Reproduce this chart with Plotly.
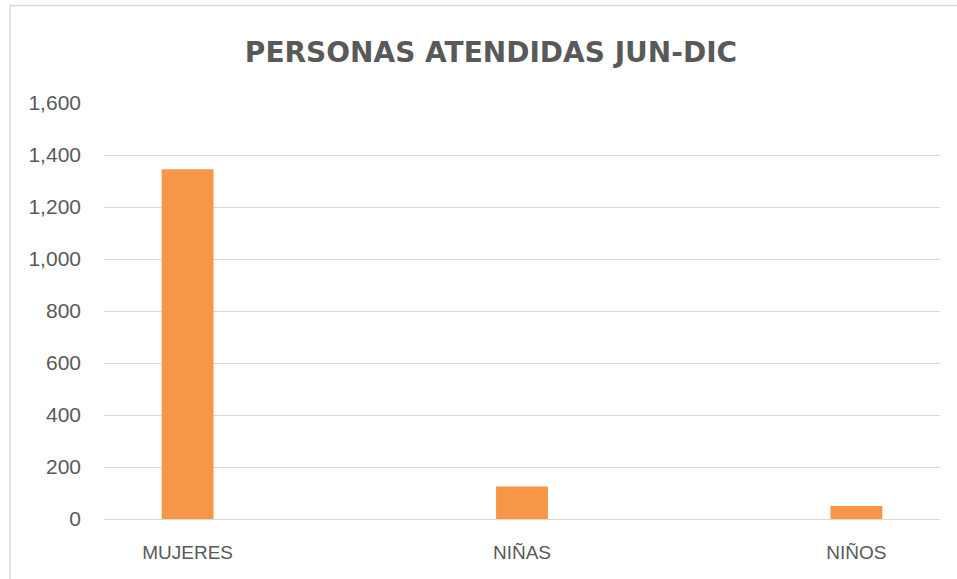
import plotly.graph_objects as go

categories = ["MUJERES", "NIÑAS", "NIÑOS"]
values = [1345, 125, 50]
y_ticks = [0, 200, 400, 600, 800, 1000, 1200, 1400, 1600]
y_tick_labels = ["0", "200", "400", "600", "800", "1,000", "1,200", "1,400", "1,600"]
title_text = "PERSONAS ATENDIDAS JUN-DIC"

W, H = 957, 579
L, R, T, B = 104, 17, 103, 60
pw, ph = W - L - R, H - T - B

def px_x(p):
    return (p - L) / pw

def px_y(p):
    return (H - B - p) / ph

fig = go.Figure(go.Bar(
    x=categories, y=values,
    marker=dict(color="#F79646", line=dict(width=0)),
    hoverinfo="x+y",
))

fig.update_layout(
    width=W, height=H,
    margin=dict(l=L, r=R, t=T, b=B, autoexpand=False),
    paper_bgcolor="white", plot_bgcolor="white",
    bargap=0.845,
    showlegend=False,
    title=dict(text=title_text, x=491 / W, y=1 - 52 / H, xref="container", yref="container",
               xanchor="center", yanchor="middle",
               font=dict(family="DejaVu Sans", size=28, color="#595959", weight="bold")),
    font=dict(family="Liberation Sans", color="#595959"),
)
fig.update_xaxes(
    type="category", range=[-0.25, 2.25], showgrid=False, showline=False, zeroline=False,
    ticks="", tickfont=dict(size=19, color="#595959"), ticklabelstandoff=20,
)
fig.update_yaxes(
    range=[0, 1600], tickvals=y_ticks, ticktext=y_tick_labels,
    showgrid=True, gridcolor="#D9D9D9", gridwidth=1.3,
    zeroline=True, zerolinecolor="#D9D9D9", zerolinewidth=1.3, showline=False,
    ticks="", tickfont=dict(size=21, color="#595959"), ticklabelstandoff=22,
)

# outer chart border (cropped at right/bottom)
fig.add_shape(type="line", xref="paper", yref="paper",
              x0=px_x(10), x1=px_x(W + 5), y0=px_y(5.5), y1=px_y(5.5),
              line=dict(color="#D9D9D9", width=1.5))
fig.add_shape(type="line", xref="paper", yref="paper",
              x0=px_x(10), x1=px_x(10), y0=px_y(5.5), y1=px_y(H + 5),
              line=dict(color="#D9D9D9", width=1.5))

fig.write_html("out.html", config={"displayModeBar": False},
               post_script="document.body.style.margin='0';document.body.style.overflow='hidden';")
